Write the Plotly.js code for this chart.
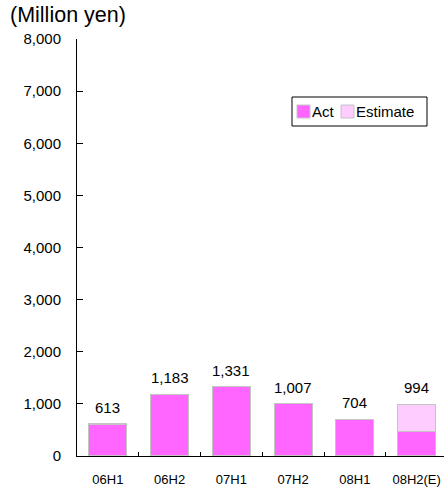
<!DOCTYPE html>
<html>
<head>
<meta charset="utf-8">
<script src="https://cdn.plot.ly/plotly-3.0.1.min.js"></script>
<style>html,body{margin:0;padding:0;background:#fff;}#chart{width:444px;height:488px;}</style>
</head>
<body>
<div id="chart"></div>
<script>
var categories = ["06H1", "06H2", "07H1", "07H2", "08H1", "08H2(E)"];
var actValues = [613, 1183, 1331, 1007, 704, 470];
var estimateValues = [null, null, null, null, null, 524];
var yTickValues = [0, 1000, 2000, 3000, 4000, 5000, 6000, 7000, 8000];
var yTickLabels = ["0", "1,000", "2,000", "3,000", "4,000", "5,000", "6,000", "7,000", "8,000"];
var seriesNames = ["Act", "Estimate"];
var seriesColors = ["#FF66FF", "#FFCCFF"];

var totals = actValues.map(function (v, i) { return v + (estimateValues[i] || 0); });
function fmt(n) { return n.toString().replace(/\B(?=(\d{3})+(?!\d))/g, ","); }

var font = "Liberation Sans, Arial, sans-serif";
var W = 444, H = 488, ML = 77, MR = 0, MT = 39, MB = 32;
var PW = W - ML - MR, PH = H - MT - MB;
function px(x) { return (x - ML) / PW; }
function py(y) { return (H - MB - y) / PH; }

var outline = { color: "#C4C4C4", width: 1.2 };
var traces = [
  { type: "bar", name: seriesNames[0], x: categories, y: actValues,
    marker: { color: seriesColors[0], line: outline }, width: 0.615 },
  { type: "bar", name: seriesNames[1], x: categories, y: estimateValues,
    marker: { color: seriesColors[1], line: outline }, width: 0.615 }
];

var annotations = categories.map(function (c, i) {
  return {
    x: c, y: totals[i], xref: "x", yref: "y", text: fmt(totals[i]),
    showarrow: false, yanchor: "bottom", yshift: 6,
    font: { family: font, size: 15, color: "#000" }
  };
});
annotations.push({
  x: px(8), y: py(15), xref: "paper", yref: "paper", text: "(Million yen)",
  showarrow: false, xanchor: "left", yanchor: "middle",
  font: { family: font, size: 21.5, color: "#000" }
});

// legend drawn as a framed box with swatches
var shapes = [
  { type: "rect", xref: "paper", yref: "paper", x0: px(292), x1: px(427), y0: py(97), y1: py(126),
    line: { color: "#000", width: 1 }, fillcolor: "#fff", layer: "above" },
  { type: "rect", xref: "paper", yref: "paper", x0: px(297), x1: px(310), y0: py(105), y1: py(118),
    line: { color: "#C4C4C4", width: 1 }, fillcolor: seriesColors[0], layer: "above" },
  { type: "rect", xref: "paper", yref: "paper", x0: px(341), x1: px(354), y0: py(105), y1: py(118),
    line: { color: "#C4C4C4", width: 1 }, fillcolor: seriesColors[1], layer: "above" }
];
annotations.push({
  x: px(310), y: py(111.5), xref: "paper", yref: "paper", text: seriesNames[0],
  showarrow: false, xanchor: "left", yanchor: "middle",
  font: { family: font, size: 15, color: "#000" }
});
annotations.push({
  x: px(354), y: py(111.5), xref: "paper", yref: "paper", text: seriesNames[1],
  showarrow: false, xanchor: "left", yanchor: "middle",
  font: { family: font, size: 15, color: "#000" }
});

var layout = {
  width: W, height: H,
  margin: { l: ML, r: MR, t: MT, b: MB, pad: 0, autoexpand: false },
  paper_bgcolor: "#fff", plot_bgcolor: "#fff",
  barmode: "stack", showlegend: false,
  font: { family: font, color: "#000" },
  xaxis: {
    type: "category", range: [-0.5, -0.5 + PW / 61.75], automargin: false,
    showline: true, linecolor: "#000", linewidth: 1,
    ticks: "inside", tickson: "boundaries", ticklen: 4, tickcolor: "#000",
    ticklabelstandoff: 11,
    showgrid: false, zeroline: false,
    tickfont: { family: font, size: 13, color: "#000" }, fixedrange: true
  },
  yaxis: {
    range: [0, 8000], automargin: false,
    showline: true, linecolor: "#000", linewidth: 1,
    ticks: "inside", ticklen: 6, tickcolor: "#000",
    ticklabelstandoff: 12,
    tickvals: yTickValues, ticktext: yTickLabels,
    showgrid: false, zeroline: false,
    tickfont: { family: font, size: 15, color: "#000" }, fixedrange: true
  },
  shapes: shapes,
  annotations: annotations
};

Plotly.newPlot("chart", traces, layout, { displayModeBar: false, staticPlot: true });
</script>
</body>
</html>
